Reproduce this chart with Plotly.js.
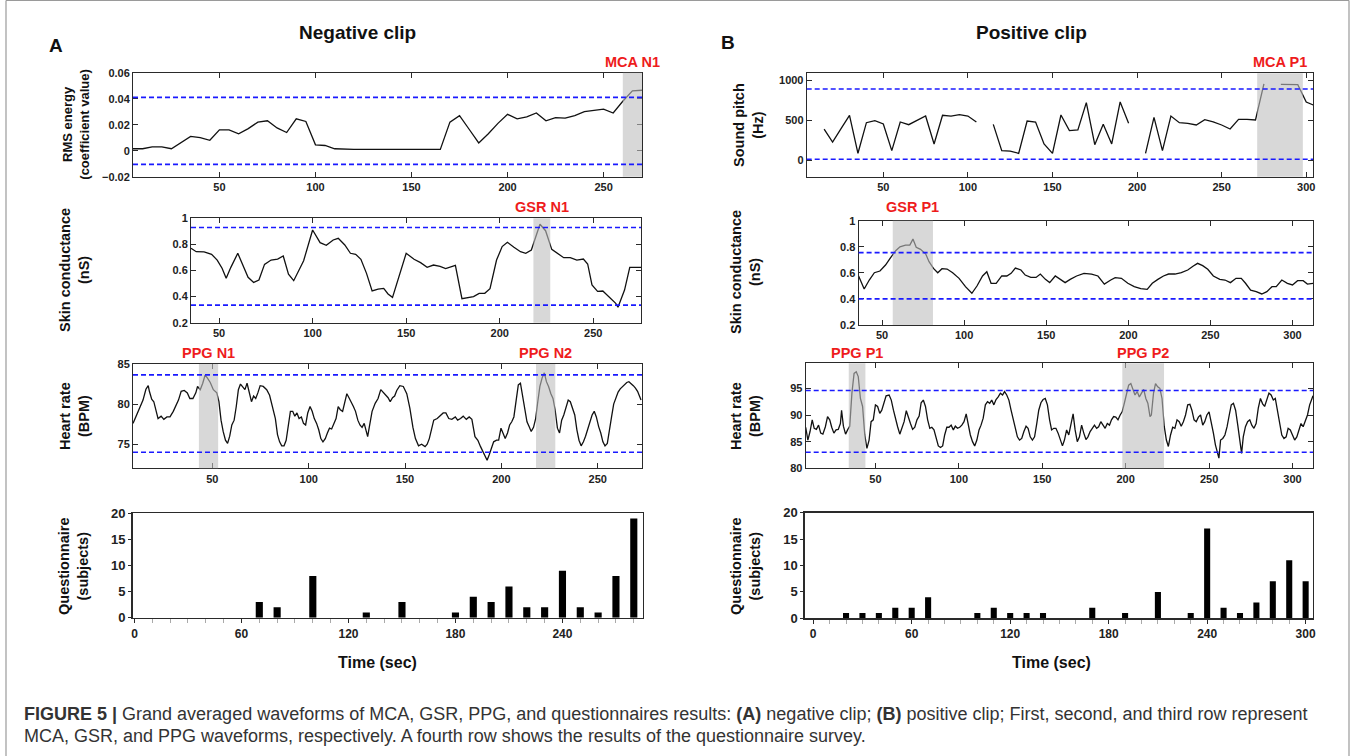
<!DOCTYPE html>
<html><head><meta charset="utf-8">
<script src="https://cdn.plot.ly/plotly-3.0.1.min.js"></script>
<style>html,body{margin:0;padding:0;background:#fff;}#chart{width:1355px;height:756px;}</style>
</head><body><div id="chart"></div>
<script>
// ---------- DATA ----------
const rmsTime = [5,10,15,20,25,30,35,40,45,50,55,60,65,70,75,80,85,90,95,100,105,110,115,120,125,130,135,140,145,150,155,160,165,170,175,180,185,190,195,200,205,210,215,220,225,230,235,240,245,250,255,260,265,270];
const rmsValue = [0.0015,0.0015,0.003,0.003,0.0015,0.0065,0.011,0.010,0.008,0.016,0.016,0.013,0.017,0.022,0.023,0.0175,0.014,0.0245,0.0225,0.0045,0.004,0.0015,0.001,0.001,0.001,0.001,0.001,0.0012,0.0012,0.001,0.001,0.001,0.001,0.022,0.027,0.0165,0.006,0.013,0.021,0.028,0.0245,0.026,0.029,0.023,0.0255,0.025,0.027,0.030,0.031,0.032,0.029,0.038,0.046,0.0465];

const gsrNegTime = [35,37.8,42,46,49,51.6,53.8,56.3,60,62.8,65.5,68.5,71.3,74.3,77.8,81.3,84.3,87.1,89.9,95.2,100,104,107.3,111,113.7,117.2,120.2,123,125.8,128.8,131.8,135,138,140.3,142.7,150,154.2,157.7,161.2,164.6,168.1,171.1,173.9,176.3,179.8,183.3,186,189,192,194.8,198.3,201.3,204.1,207.6,211.1,213.9,216.9,221.5,224.5,227.8,230.8,234.2,237.7,241.2,244.7,247,249.3,252.3,255.1,258.6,262,263.2,266.7,269.5,275.5];
const gsrNegValue = [0.770,0.744,0.742,0.724,0.68,0.617,0.54,0.624,0.732,0.64,0.548,0.509,0.527,0.647,0.68,0.688,0.711,0.571,0.522,0.675,0.91,0.813,0.793,0.834,0.847,0.796,0.732,0.724,0.686,0.578,0.443,0.458,0.463,0.42,0.394,0.732,0.686,0.66,0.624,0.642,0.632,0.614,0.629,0.64,0.384,0.392,0.4,0.425,0.425,0.461,0.68,0.783,0.816,0.778,0.744,0.732,0.757,0.954,0.905,0.762,0.732,0.698,0.698,0.68,0.688,0.65,0.489,0.44,0.443,0.394,0.348,0.318,0.45,0.624,0.624];

const ppgNegTime = [8.8,10.6,12.2,14,15.5,16.7,17.3,18.5,19.6,20.7,21.8,23.4,24.8,26.4,28,29.7,30.9,32.4,33.8,35.4,37,38.3,39.9,41.4,42.3,43.7,45,46.2,47.3,48.9,50.5,52.3,53.4,54.5,55.6,56.8,57.9,59,60.1,61.3,62.4,63.5,64.6,65.8,66.9,68,69.1,70.3,71.4,72.5,73.6,74.8,76.4,78.2,79.7,81.1,82.7,83.8,84.9,86,87.2,88.3,89.4,90.5,91.7,92.8,93.9,95,96.2,97.3,98.4,99.5,100.7,101.8,102.9,104.1,105.2,106.3,107.4,108.6,109.7,110.8,111.9,113.1,114.2,115.3,116.4,117.6,118.7,119.8,120.9,122.1,123.2,124.3,125.5,126.6,127.7,128.8,130,130.6,131.5,132.9,134.5,136,137.4,139,140.1,141.2,142.3,143.5,144.6,145.7,147.3,149.1,150.9,152.5,154.1,155.4,157,158.6,160.4,161.5,162.6,163.7,164.9,166.7,168.2,169.8,171.2,172.7,174.3,176.1,177.3,178.8,180.2,181.8,183.3,184.7,186.3,187.8,189.2,190.8,191.9,192.6,193.7,194.6,196,197.5,198.6,199.8,200.9,202,203.2,204.3,205.4,206.5,207.7,208.8,209.9,211,212.2,213.3,214.4,215.5,216.7,217.8,218.9,220,221.2,222.3,223.4,224.5,225.7,226.8,227.9,229.1,230.2,231.3,232.4,233.6,234.7,235.8,236.9,238.1,239.2,240.3,241.4,242.6,243.7,244.8,245.9,247.1,248.2,249.3,250.5,251.6,252.7,253.8,255,256.1,257.2,258.3,259.5,260.6,261.7,262.8,264,265.1,266.2,267.3,268.5,269.6,270.7,272.5];
const ppgNegValue = [77.6,78.65,79.5,80.5,81.85,82.3,81.6,80.6,80.3,79.1,78.2,78.5,78.1,78.4,78.4,79.1,79.8,80.5,81.6,81.7,81.4,80.7,80.7,81.4,82.2,81.8,82.6,83.6,83.3,82.7,81.8,81.4,80.3,78.0,76.6,75.5,75.1,76,77.4,78.0,79.7,81.8,82.5,82.2,81.8,82.6,81.3,80.3,81,80.7,81.4,82.3,82.2,81.8,81.1,79.9,78.2,76.2,75.3,74.8,74.8,75.5,77.6,79.1,79.1,78.5,78.9,78.2,78.4,77.6,77.4,78.9,79.7,79.1,78.2,77.6,76.8,75.7,75.3,75.7,76.4,77,76.9,77.6,78.2,79.7,79.3,79.1,80.3,81.3,80.8,80.1,79.7,79.1,78,77.4,77.1,77.6,76.2,75.95,77.2,79.1,80.1,80.7,81.8,81.4,81,80.8,80.3,80.8,81,81.7,82.3,82.2,81.3,79.5,77.1,75.7,74.8,75,74.7,75,75.7,77,78,78.2,78.5,78.9,78.9,78.2,78.1,78.4,78,78.2,78.5,78.1,78.4,78.1,75.95,75.5,74.7,73.9,73.3,73,73.7,74.3,75.3,75.5,75.5,77,76.4,75.7,76.4,77.4,77.8,78.4,80.5,82.4,82.6,81.1,79.7,77.8,77.2,76.6,77.1,78.2,80.3,82.2,83.3,83.9,82.8,82.2,81.3,80.7,79.3,77,76.4,78,78.65,79.5,80.5,80.3,79.5,78.65,76.8,75.5,74.8,75.3,76,76.8,77.6,78.65,79.1,78.4,77.2,76.4,75.3,74.8,75.1,76.5,78.4,80.0,80.9,81.5,81.9,82.2,82.5,82.7,82.8,82.6,82.3,82.0,81.6,80.5];

const qNegTime = [70,80,100,130,150,180,190,200,210,220,230,240,250,260,270,280];
const qNegCount = [3,2,8,1,3,1,4,3,6,2,2,9,2,1,8,19];

const pitchTime = [15,20,25,30,35,40,45,50,55,60,65,70,75,80,85,90,95,100,105,110,115,120,125,130,135,140,145,150,155,160,165,170,175,180,185,190,195,200,205,210,215,220,225,230,235,240,245,250,255,260,265,270,275,280,285,290,295,300,305];
const pitchValue = [390,227,395,563,85,470,496,454,118,479,445,500,554,202,563,554,571,554,479,null,449,118,113,84,491,479,202,84,567,370,378,722,193,449,202,731,462,null,84,538,118,554,470,462,441,508,479,441,391,512,512,504,958,null,953,953,949,730,685];

const gsrPosTime = [35.7,39.1,42.2,45.3,48.7,52.1,55.2,58.3,60.9,64.3,66.9,68.8,70.8,73.4,76.6,78.6,81.3,83.9,86.5,89.6,93,96.9,100.8,104.7,107.8,111.2,113.8,116.4,119.5,122.9,126,128.6,131.2,134.6,137.2,140.6,143.8,146.4,149.5,152.1,155.5,158.6,161.5,164.6,168.5,173,177.6,181.5,185.4,189.3,192,195.8,199.7,203.6,207.6,211.5,214.6,218,221.4,224.5,228.4,232.3,236.2,239.6,242.2,245.3,248.4,251.8,255.7,258.9,262.2,265.6,268.8,271.4,274.5,277.9,281.3,284.4,287.5,290.1,293.5,296.9,300,303.1,306.5,309.1,312.5];
const gsrPosValue = [0.576,0.476,0.545,0.601,0.614,0.66,0.716,0.77,0.80,0.813,0.813,0.859,0.796,0.78,0.744,0.686,0.634,0.601,0.632,0.629,0.601,0.558,0.494,0.443,0.499,0.576,0.609,0.52,0.52,0.576,0.576,0.596,0.637,0.622,0.583,0.565,0.565,0.591,0.55,0.525,0.576,0.55,0.525,0.55,0.576,0.596,0.591,0.576,0.514,0.545,0.563,0.558,0.52,0.494,0.479,0.473,0.52,0.55,0.576,0.591,0.591,0.601,0.622,0.652,0.673,0.655,0.627,0.576,0.55,0.545,0.525,0.558,0.558,0.52,0.468,0.456,0.438,0.456,0.494,0.494,0.545,0.52,0.507,0.54,0.54,0.514,0.52];

const ppgPosTime = [8.2,9.5,10.8,12.1,13.3,14.6,15.9,17.2,18.5,20,21.3,22.6,23.8,25.1,26.4,27.7,29,29.7,30.8,32.1,33.3,34.6,35.9,37.2,38.5,39.7,41,42.3,43.6,44.9,46.2,47.4,48.7,50,51.3,52.6,53.8,55.1,56.4,58.2,59.5,60.8,62.1,63.3,64.6,65.9,67.2,68.5,69.7,71,72.3,73.6,74.9,76.2,77.4,78.7,80,81.3,82.6,83.8,85.1,86.4,87.7,89,90.3,91.5,92.8,94.1,95.4,96.7,97.9,99.2,100.5,101.8,103.1,104.4,105.6,106.9,108.2,109.5,110.8,112.1,113.3,114.6,115.9,117.2,118.5,119.7,121,122.3,123.6,124.9,126.2,127.4,128.7,130,131.3,132.6,133.8,135.1,136.4,137.7,139,140.3,141.5,142.8,144.1,145.4,146.7,147.9,149.2,150.5,151.8,153.1,154.4,155.6,156.9,158.2,159.5,160.8,162.1,163.3,164.6,165.9,167.2,168.5,169.7,171,172.3,173.6,174.9,176.2,177.4,178.7,180,181.3,182.6,183.8,185.1,186.4,187.7,189,190.3,191.5,192.8,194.1,195.4,196.7,197.9,199.2,200.5,201.8,203.1,204.4,205.6,206.9,208.2,209.5,210.8,212.1,213.3,214.6,215.4,216.7,217.9,219.2,220.5,221.8,223.1,224.4,225.6,226.9,228.2,229.5,230.8,232.1,233.3,234.6,235.9,237.2,238.5,239.7,241,242.3,243.6,244.9,246.2,247.4,248.7,250,251.3,252.6,253.8,255.1,255.9,256.9,258.2,259.5,260.8,262.1,263.3,264.6,265.9,267.2,268.5,269.5,270.5,271.8,273.1,274.4,275.6,276.9,278.2,279.5,280.8,282.1,283.3,284.6,285.9,287.2,288.5,289.7,291,292.3,293.6,294.9,296.2,297.4,298.7,300,301.3,302.6,303.8,305.1,306.4,307.7,309,310.3,312.3];
const ppgPosValue = [87.7,85.3,86.9,89.1,87.5,87.3,88.1,86.6,86.4,87.8,89.7,89.1,87.7,86.6,87.2,87.3,88.4,90.9,87.9,86.4,87.2,87.9,94.1,97.8,98.1,97.2,93.1,91.6,86.3,83.75,85.3,88.75,89.1,91.9,91.6,90.3,90.9,92.2,93.6,93.75,92.8,90.9,89.1,87.8,86.4,87.7,88.75,90.8,89.4,88.4,87.3,87.7,89.1,89.8,92.3,92.8,91.6,89.1,87.5,87.7,87.2,85.6,84.2,83.9,84.2,86.25,87.7,87.7,88.1,87.2,87.9,87.5,87.7,88.1,88.75,90.2,88.4,86.25,85,84.2,85.3,87.2,88.1,89.4,91.9,92.5,92.2,92.8,91.9,92.9,93.4,94.1,93.75,94.4,93.75,92.8,90.9,89.1,87.5,85.9,85.3,85.6,86.9,87.9,87.5,85.9,85.3,85.9,88.4,90.9,92.3,92.9,93.1,91.9,89.1,87.2,87.5,87.5,86.6,85.3,84.2,85.3,87.2,86.25,88.1,90.2,87.2,85,85.9,88.1,86.6,85.4,85.9,86.9,87.5,88.1,87.5,87.8,88.75,88.1,87.5,88.4,88.1,89.1,89.7,89.6,89.1,90,90.6,92.2,93.9,95.6,95.9,94.7,93.75,94.4,93.4,94.1,94.8,93.1,92.2,89.7,90,94.1,95.9,95.3,95,93.1,87.9,85.3,84.1,86.25,87.7,87.5,89.1,88.75,87.9,88.75,90,91.9,92,90.9,89.1,88.75,89.6,90,88.1,88.75,90,90.6,88.75,86.6,84.4,82.8,81.9,85.3,85.6,86.25,87.8,90,91.9,92.2,90.9,88.1,85,82.8,85.9,87.8,88.75,89.1,88.1,87.5,88.4,91.3,93.1,92.1,91.6,92.8,94.1,93.75,92.8,93.1,90.9,88.75,86.25,85.6,85.9,87.5,87.2,86.25,85.3,85.9,87.2,88.4,87.8,88.75,90,91.9,93.6];

const qPosTime = [20,30,40,50,60,70,100,110,120,130,140,170,190,210,230,240,250,260,270,280,290,300];
const qPosCount = [1,1,1,2,2,4,1,2,1,1,1,2,1,5,1,17,2,1,3,7,11,7];

// thresholds (upper, lower) per waveform panel
const thrRms = [0.041, -0.0105];
const thrGsrNeg = [0.93, 0.335];
const thrPpgNeg = [83.65, 74.0];
const thrPitch = [895, 10];
const thrGsrPos = [0.755, 0.40];
const thrPpgPos = [94.6, 83.0];

// highlighted windows [start, end, label]
const winRms = [[260, 270, 'MCA N1']];
const winGsrNeg = [[218, 227, 'GSR N1']];
const winPpgNeg = [[43, 53, 'PPG N1'], [218, 228, 'PPG N2']];
const winPitch = [[271, 298, 'MCA P1']];
const winGsrPos = [[56.5, 81, 'GSR P1']];
const winPpgPos = [[34, 44, 'PPG P1'], [198, 223, 'PPG P2']];

const qTicksA = [0, 60, 120, 180, 240];
const qTicksB = [0, 60, 120, 180, 240, 300];

// ---------- LAYOUT HELPERS ----------
const W = 1355, H = 756;
const px = v => v / W;
const py = v => 1 - v / H;
const FONT = 'Liberation Sans, Arial, sans-serif';
const AX = '#2a2a2a';
const TF = {family: FONT, size: 11, color: '#222', weight: 'bold'};

// pixel boxes [left, right, top, bottom]
const boxes = [
  [133, 642, 72.7, 176.7],
  [191, 641, 218.3, 322.7],
  [133, 642, 364, 468.3],
  [132.7, 642.7, 513.3, 617.7],
  [806.7, 1313, 73.3, 176.7],
  [858.6, 1313, 220.7, 325],
  [805.7, 1313, 363.3, 468.3],
  [805, 1312.7, 512.7, 618.3]
];
const xr = [[5, 270], [35, 275.5], [8.8, 273], [-1, 285], [4.7, 304], [35.7, 312.5], [8.2, 312.3], [-5, 304.3]];
const yr = [[-0.02, 0.06], [0.2, 1], [72, 85], [0, 20], [-210, 1092], [0.2, 1], [80, 99.7], [0, 20]];
const ydt = [0.02, 0.2, 5, 5, 500, 0.2, 5, 5];

const layout = {
  width: W, height: H, margin: {l: 0, r: 0, t: 0, b: 0},
  paper_bgcolor: '#fff', plot_bgcolor: '#fff', showlegend: false,
  shapes: [], annotations: []
};

boxes.forEach((b, i) => {
  const n = i + 1, sx = n === 1 ? '' : String(n);
  const isBar = (n === 4 || n === 8);
  const xa = {
    domain: [px(b[0]), px(b[1])], range: xr[i], anchor: 'y' + sx,
    showgrid: false, zeroline: false, showline: true, linecolor: AX, tickcolor: AX,
    tickfont: TF, fixedrange: true
  };
  const ya = {
    domain: [py(b[3]), py(b[2])], range: yr[i], anchor: 'x' + sx,
    showgrid: false, zeroline: false, showline: true, linecolor: AX, tickcolor: AX,
    tickfont: TF, dtick: ydt[i], tick0: 0, fixedrange: true
  };
  if (isBar) {
    Object.assign(xa, {mirror: true, linewidth: 1.6, ticks: 'outside', ticklen: 4,
      tickmode: 'array', tickvals: n === 4 ? qTicksA : qTicksB,
      tickfont: {family: FONT, size: 12, color: '#222', weight: 'bold'},
      minor: {dtick: 10, tick0: 0, ticks: 'outside', ticklen: 4, tickcolor: '#aaa'}});
    Object.assign(ya, {mirror: true, linewidth: 1.6, ticks: 'outside', ticklen: 3,
      tickfont: {family: FONT, size: 13, color: '#222', weight: 'bold'}});
  } else {
    Object.assign(xa, {mirror: 'ticks', linewidth: 1, ticks: 'inside', ticklen: 5, dtick: 50, tick0: 0});
    Object.assign(ya, {mirror: 'ticks', linewidth: 1, ticks: 'inside', ticklen: 5});
  }
  layout['xaxis' + sx] = xa;
  layout['yaxis' + sx] = ya;
});

// ---------- TRACES ----------
const line = {color: '#111', width: 1.3};
const traces = [
  {x: rmsTime, y: rmsValue, xaxis: 'x', yaxis: 'y'},
  {x: gsrNegTime, y: gsrNegValue, xaxis: 'x2', yaxis: 'y2'},
  {x: ppgNegTime, y: ppgNegValue, xaxis: 'x3', yaxis: 'y3'},
  {x: pitchTime, y: pitchValue, xaxis: 'x5', yaxis: 'y5'},
  {x: gsrPosTime, y: gsrPosValue, xaxis: 'x6', yaxis: 'y6'},
  {x: ppgPosTime, y: ppgPosValue, xaxis: 'x7', yaxis: 'y7'}
].map(t => Object.assign(t, {type: 'scatter', mode: 'lines', line: line, connectgaps: false, hoverinfo: 'skip'}));
traces.push({type: 'bar', x: qNegTime, y: qNegCount, xaxis: 'x4', yaxis: 'y4', width: 4, marker: {color: '#000'}, hoverinfo: 'skip'});
traces.push({type: 'bar', x: qPosTime, y: qPosCount, xaxis: 'x8', yaxis: 'y8', width: 3.7, marker: {color: '#000'}, hoverinfo: 'skip'});

// ---------- SHADED WINDOWS, THRESHOLDS, LABELS ----------
const panels = [
  {ax: '', wins: winRms, thr: thrRms, ly: 61.7},
  {ax: '2', wins: winGsrNeg, thr: thrGsrNeg, ly: 206.7},
  {ax: '3', wins: winPpgNeg, thr: thrPpgNeg, ly: 353.3},
  {ax: '5', wins: winPitch, thr: thrPitch, ly: 61.7},
  {ax: '6', wins: winGsrPos, thr: thrGsrPos, ly: 206.7},
  {ax: '7', wins: winPpgPos, thr: thrPpgPos, ly: 353.3}
];
panels.forEach(p => {
  p.wins.forEach(w => {
    layout.shapes.push({type: 'rect', xref: 'x' + p.ax, yref: 'y' + p.ax + ' domain', x0: w[0], x1: w[1], y0: 0, y1: 1,
      fillcolor: 'rgba(190,190,190,0.6)', line: {width: 0}, layer: 'above'});
    layout.annotations.push({xref: 'x' + p.ax, yref: 'paper', x: (w[0] + w[1]) / 2, y: py(p.ly), text: w[2], showarrow: false,
      xanchor: 'center', yanchor: 'middle', font: {family: FONT, size: 14.5, color: '#ee1c1c', weight: 'bold'}});
  });
  p.thr.forEach(v => {
    layout.shapes.push({type: 'line', xref: 'x' + p.ax + ' domain', yref: 'y' + p.ax, x0: 0, x1: 1, y0: v, y1: v,
      line: {color: '#1a1aff', width: 1.6, dash: '5px,3px'}, layer: 'above'});
  });
});

// figure frame (left, right, top edges)
const frameColor = '#9a9a9a';
[[6, 0.5, 6, 756], [1349, 0.5, 1349, 756], [6, 0.5, 1349, 0.5]].forEach(f => {
  layout.shapes.push({type: 'line', xref: 'paper', yref: 'paper', x0: px(f[0]), y0: py(f[1]), x1: px(f[2]), y1: py(f[3]),
    line: {color: frameColor, width: 1.2}, layer: 'below'});
});

// text annotations
function ann(x, y, text, size, opts) {
  layout.annotations.push(Object.assign({xref: 'paper', yref: 'paper', x: px(x), y: py(y), text: text, showarrow: false,
    xanchor: 'center', yanchor: 'middle', font: {family: FONT, size: size, color: '#111', weight: 'bold'}}, opts || {}));
}
ann(55.5, 45, 'A', 19);
ann(358, 33, 'Negative clip', 19);
ann(728, 43, 'B', 19);
ann(1031, 33, 'Positive clip', 19);
ann(377, 662, 'Time (sec)', 16);
ann(1051, 662, 'Time (sec)', 16);

const yTitles = [
  [76, 124.7, 'RMS energy<br>(coefficient value)', 13],
  [74, 270, 'Skin conductance<br>(nS)', 14.5],
  [74, 416, 'Heart rate<br>(BPM)', 14.5],
  [73, 566, 'Questionnaire<br>(subjects)', 14.5],
  [748, 125, 'Sound pitch<br>(Hz)', 14.5],
  [745, 272, 'Skin conductance<br>(nS)', 14.5],
  [745, 416, 'Heart rate<br>(BPM)', 14.5],
  [745, 566, 'Questionnaire<br>(subjects)', 14.5]
];
yTitles.forEach(t => ann(t[0], t[1], t[2], t[3], {textangle: -90}));

const capFont = {family: FONT, size: 18, color: '#333'};
ann(22, 714, '<b>FIGURE 5 |</b> Grand averaged waveforms of MCA, GSR, PPG, and questionnaires results: <b>(A)</b> negative clip; <b>(B)</b> positive clip; First, second, and third row represent', 18, {xanchor: 'left', font: capFont});
ann(22, 736, 'MCA, GSR, and PPG waveforms, respectively. A fourth row shows the results of the questionnaire survey.', 18, {xanchor: 'left', font: capFont});

Plotly.newPlot('chart', traces, layout, {staticPlot: true, displayModeBar: false});
</script></body></html>
